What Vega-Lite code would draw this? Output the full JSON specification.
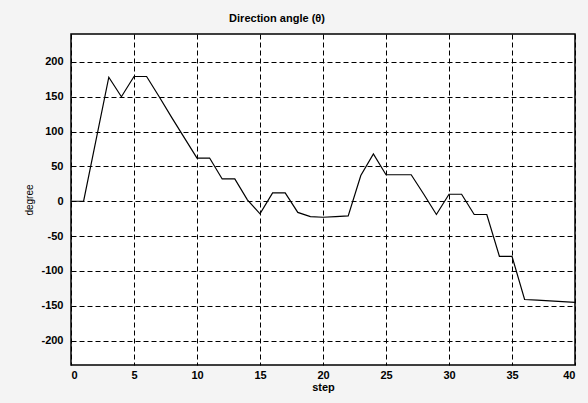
{
  "$schema": "https://vega.github.io/schema/vega-lite/v6.json",
  "width": 504,
  "height": 331,
  "autosize": {"type": "none"},
  "padding": {"left": 71, "top": 34, "right": 13, "bottom": 38},
  "background": "#f4f4f4",
  "config": {
    "view": {"stroke": "black", "strokeWidth": 1.5, "fill": "white"},
    "font": "Liberation Sans"
  },
  "title": {
    "text": "Direction angle (θ)",
    "fontSize": 11,
    "fontWeight": "bold",
    "font": "Liberation Sans",
    "color": "black",
    "offset": 10,
    "dx": -46
  },
  "data": {
    "values": [
      {"step": 0, "degree": 0},
      {"step": 1, "degree": 0},
      {"step": 3, "degree": 178},
      {"step": 4, "degree": 150},
      {"step": 5, "degree": 179},
      {"step": 6, "degree": 179},
      {"step": 7, "degree": 150},
      {"step": 8, "degree": 120},
      {"step": 9, "degree": 91},
      {"step": 10, "degree": 62},
      {"step": 11, "degree": 62},
      {"step": 12, "degree": 32},
      {"step": 13, "degree": 32},
      {"step": 14, "degree": 2},
      {"step": 15, "degree": -18},
      {"step": 16, "degree": 12},
      {"step": 17, "degree": 12},
      {"step": 18, "degree": -16},
      {"step": 19, "degree": -22},
      {"step": 20, "degree": -23},
      {"step": 21, "degree": -22},
      {"step": 22, "degree": -21},
      {"step": 23, "degree": 37},
      {"step": 24, "degree": 68},
      {"step": 25, "degree": 38},
      {"step": 26, "degree": 38},
      {"step": 27, "degree": 38},
      {"step": 28, "degree": 10},
      {"step": 29, "degree": -19},
      {"step": 30, "degree": 10},
      {"step": 31, "degree": 10},
      {"step": 32, "degree": -19},
      {"step": 33, "degree": -19},
      {"step": 34, "degree": -79},
      {"step": 35, "degree": -79},
      {"step": 36, "degree": -141},
      {"step": 37, "degree": -142},
      {"step": 38, "degree": -143},
      {"step": 39, "degree": -144},
      {"step": 40, "degree": -145}
    ]
  },
  "mark": {"type": "line", "color": "black", "strokeWidth": 1.2},
  "encoding": {
    "x": {
      "field": "step",
      "type": "quantitative",
      "scale": {"domain": [0, 40], "nice": false, "zero": false},
      "axis": {
        "title": "step",
        "values": [0, 5, 10, 15, 20, 25, 30, 35, 40],
        "grid": true,
        "gridColor": "black",
        "gridDash": [5, 3],
        "gridWidth": 1,
        "gridOpacity": 1,
        "domain": false,
        "ticks": false,
        "labelPadding": 4,
        "labelFontSize": 11,
        "labelFontWeight": "bold",
        "labelColor": "black",
        "titleFontSize": 11,
        "titleFontWeight": "bold",
        "titleColor": "black",
        "titlePadding": 1
      }
    },
    "y": {
      "field": "degree",
      "type": "quantitative",
      "scale": {"domain": [-235, 240], "nice": false, "zero": false},
      "axis": {
        "title": "degree",
        "values": [-200, -150, -100, -50, 0, 50, 100, 150, 200],
        "labelExpr": "replace(datum.label, '−', '-')",
        "grid": true,
        "gridColor": "black",
        "gridDash": [5, 3],
        "gridWidth": 1,
        "gridOpacity": 1,
        "domain": false,
        "ticks": false,
        "labelPadding": 8,
        "labelFontSize": 11,
        "labelFontWeight": "bold",
        "labelColor": "black",
        "titleFontSize": 10,
        "titleFontWeight": "normal",
        "titleColor": "black",
        "titlePadding": 6
      }
    }
  }
}
